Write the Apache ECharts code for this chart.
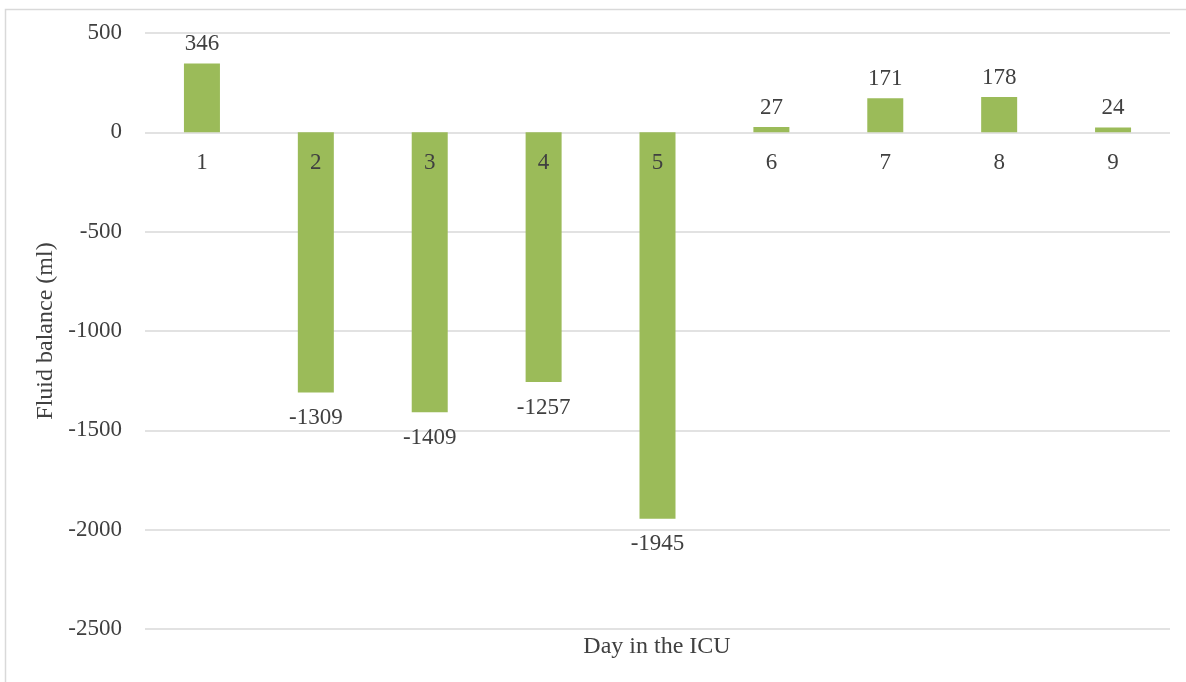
<!DOCTYPE html>
<html>
<head>
<meta charset="utf-8">
<script src="https://cdn.jsdelivr.net/npm/echarts@6/dist/echarts.min.js"></script>
<style>
  html, body { margin: 0; padding: 0; background: #fff; }
  #chart { width: 1186px; height: 682px; }
</style>
</head>
<body>
<div id="chart"></div>
<script>
const days = ['1', '2', '3', '4', '5', '6', '7', '8', '9'];
const fluidBalance = [346, -1309, -1409, -1257, -1945, 27, 171, 178, 24];

const textColor = '#404040';
const fontFamily = '"Liberation Serif", "Times New Roman", serif';

// grid: top 33, bottom edge at 629 -> zero line 100px below top
const gridTop = 33, gridBottom = 53;
const zeroOffset = -(682 - gridBottom - gridTop - 100);

const chart = echarts.init(document.getElementById('chart'));
chart.setOption({
  animation: false,
  grid: { left: 145, right: 16, top: gridTop, bottom: gridBottom },
  graphic: [
    {
      type: 'rect',
      shape: { x: 5.5, y: 9.5, width: 1200, height: 700 },
      style: { fill: 'none', stroke: '#d9d9d9', lineWidth: 1.5 },
      silent: true
    },
    {
      type: 'text',
      x: 657, y: 647,
      style: { text: 'Day in the ICU', fill: textColor, font: '24px ' + fontFamily, align: 'center', verticalAlign: 'middle' }
    }
  ],
  xAxis: {
    type: 'category',
    data: days,
    z: 10,
    offset: zeroOffset,
    axisLine: { show: false },
    axisTick: { show: false },
    axisLabel: { color: textColor, fontFamily: fontFamily, fontSize: 23, margin: 18 }
  },
  yAxis: {
    type: 'value',
    min: -2500,
    max: 500,
    interval: 500,
    name: 'Fluid balance (ml)',
    nameLocation: 'middle',
    nameRotate: 90,
    nameGap: 84,
    nameTextStyle: { color: textColor, fontFamily: fontFamily, fontSize: 24 },
    axisLine: { show: false },
    axisTick: { show: false },
    splitLine: { lineStyle: { color: '#d9d9d9', width: 1.5 } },
    axisLabel: { color: textColor, fontFamily: fontFamily, fontSize: 23, margin: 23, formatter: v => String(v) }
  },
  series: [
    {
      type: 'bar',
      barWidth: 36,
      itemStyle: { color: '#9bbb59' },
      data: fluidBalance.map(v => ({
        value: v,
        label: v < 0 ? { position: 'bottom', distance: 14 } : { position: 'top', distance: 8 }
      })),
      label: {
        show: true,
        color: textColor,
        fontFamily: fontFamily,
        fontSize: 23
      }
    }
  ]
});
</script>
</body>
</html>
